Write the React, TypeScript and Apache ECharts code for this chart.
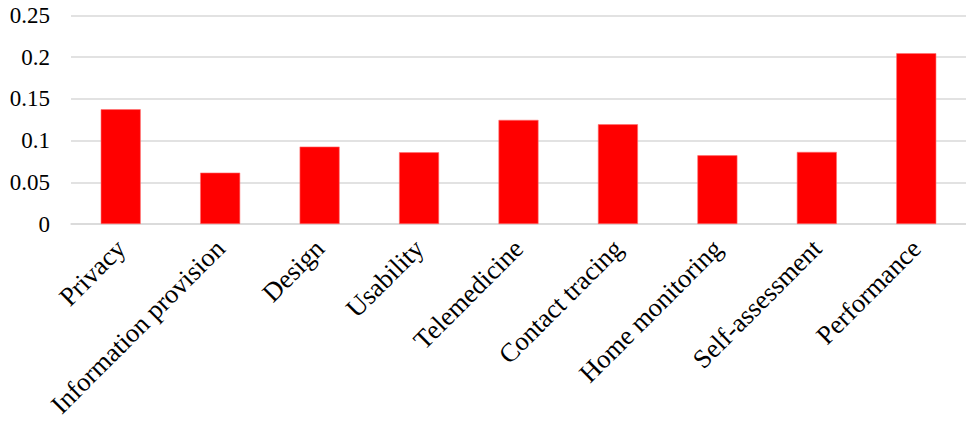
import React, { useEffect, useRef } from "react";
import * as echarts from "echarts";

const categories = [
  "Privacy",
  "Information provision",
  "Design",
  "Usability",
  "Telemedicine",
  "Contact tracing",
  "Home monitoring",
  "Self-assessment",
  "Performance",
];
const values = [0.1376, 0.0616, 0.0928, 0.086, 0.1248, 0.1196, 0.0824, 0.0864, 0.2048];

export default function App() {
  const ref = useRef<HTMLDivElement>(null);
  useEffect(() => {
    if (!ref.current) return;
    const chart = echarts.init(ref.current, undefined, { renderer: "svg" });
    chart.setOption({
      animation: false,
      grid: { left: 71, right: -10, top: 15.5, bottom: 199, containLabel: false },
      xAxis: {
        type: "category",
        data: categories,
        axisLine: { lineStyle: { color: "#d9d9d9", width: 1.5 } },
        axisTick: { show: false },
        axisLabel: {
          rotate: 45,
          interval: 0,
          margin: 20,
          color: "#000",
          fontFamily: "Liberation Serif",
          fontSize: 26.5,
        },
      },
      yAxis: {
        type: "value",
        min: 0,
        max: 0.25,
        interval: 0.05,
        axisLine: { show: false },
        axisTick: { show: false },
        splitLine: { lineStyle: { color: "#d9d9d9", width: 1.5 } },
        axisLabel: {
          margin: 21,
          color: "#000",
          fontFamily: "Liberation Serif",
          fontSize: 23,
        },
      },
      series: [
        {
          type: "bar",
          data: values,
          barWidth: 40,
          itemStyle: { color: "#ff0000", borderColor: "#ff7070", borderWidth: 0.6 },
        },
      ],
    });
    return () => chart.dispose();
  }, []);
  return (
    <div
      ref={ref}
      style={{ position: "fixed", left: 0, top: 0, width: 966, height: 423, background: "#fff" }}
    />
  );
}
